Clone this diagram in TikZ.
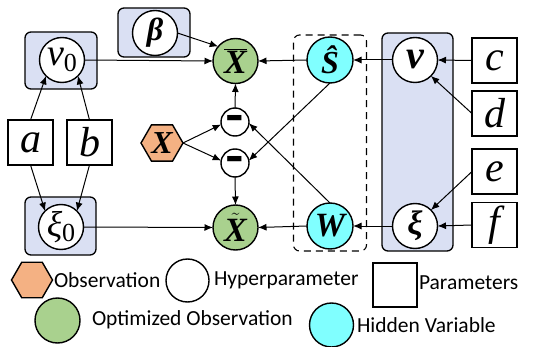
\documentclass[tikz,border=0pt]{standalone}
\usepackage{fontspec}
\setmainfont{Liberation Serif}
\newfontfamily\legfont{Carlito}
\newfontfamily\minusfont{Liberation Sans}
\usetikzlibrary{arrows.meta,shapes.geometric}
\definecolor{boxblue}{HTML}{DAE0F3}
\definecolor{optgreen}{HTML}{A9D18E}
\definecolor{hidcyan}{HTML}{80FFFF}
\definecolor{obsorange}{HTML}{F4B183}
\newcommand{\fs}[1]{\fontsize{#1}{#1}\selectfont}
\begin{document}
\begin{tikzpicture}[x=1pt,y=-1pt,
  every node/.style={inner sep=0pt,outer sep=0pt},
  bluebox/.style={draw,line width=1.3pt,fill=boxblue,rounded corners=6pt},
  dashbox/.style={draw,line width=1.1pt,dash pattern=on 7pt off 5pt,rounded corners=6pt},
  hyper/.style={circle,draw,line width=1.4pt,fill=white,minimum size=45pt},
  optim/.style={circle,draw,line width=1.4pt,fill=optgreen,minimum size=45pt},
  hidden/.style={circle,draw,line width=1.4pt,fill=hidcyan,minimum size=46pt},
  param/.style={rectangle,draw,line width=1.4pt,fill=white,minimum size=45pt,font=\fs{42}\itshape},
  minusnode/.style={circle,draw,line width=1.4pt,fill=white,minimum size=28pt,font=\minusfont\fs{40}\bfseries},
  obs/.style={regular polygon,regular polygon sides=6,draw,line width=1.4pt,fill=obsorange,minimum size=42pt},
  conn/.style={line width=1pt,-{Latex[length=8.5pt,width=7pt]}},
  leg/.style={anchor=west,font=\legfont\fs{21.5}}
]
\useasboundingbox (0,0) rectangle (534,347);
% background boxes
\node[bluebox,minimum width=72pt,minimum height=57pt] (nuzbox) at (61,60.5) {};
\node[bluebox,minimum width=71pt,minimum height=58pt] (xizbox) at (60.5,226) {};
\node[bluebox,minimum width=72pt,minimum height=49pt] (betabox) at (154,32.5) {};
\node[bluebox,minimum width=71pt,minimum height=218pt] (vbox) at (417.5,142) {};
\node[dashbox,minimum width=73pt,minimum height=216pt] (dbox) at (330,143) {};
% nodes
\node[hyper,font=\fs{38}] (nu0) at (62,60) {\itshape ν\raisebox{-0.3ex}{\upshape\fs{26}0}};
\node[hyper,font=\fs{24}] (xi0) at (61,227) {\itshape\fs{36}ξ\raisebox{-0.3ex}{\upshape\fs{26}0}};
\node[hyper,font=\fs{32}\bfseries\itshape] (beta) at (155,33) {β};
\node[param] (a) at (30.5,142.5) {a};
\node[param] (b) at (89.5,142.5) {b};
\node[obs,font=\fs{32}\bfseries\itshape] (X) at (162,143) {X};
\node[optim,font=\fs{34}\bfseries\itshape] (Xbar) at (235.5,61) {$\overline{\hbox{X}}$};
\node[optim,font=\fs{34}\bfseries\itshape] (Xtil) at (235.5,227.5) {$\tilde{\hbox{X}}$};
\node[minusnode] (mt) at (235,122) {\scalebox{1.4}[1.1]{-}};
\node[minusnode] (mb) at (235,163) {\scalebox{1.4}[1.1]{-}};
\node[hidden,font=\fs{32}\bfseries\itshape] (S) at (330,60) {\^S};
\node[hidden,font=\fs{34}\bfseries\itshape] (W) at (330,226) {W};
\node[hyper,font=\fs{40}\bfseries\itshape] (v) at (415,60) {v};
\node[hyper,font=\fs{34}\bfseries\itshape] (xi) at (415,226) {ξ};
\node[param] (c) at (494.5,60.5) {c};
\node[param] (d) at (494.5,113.5) {d};
\node[param] (e) at (494.5,171.5) {e};
\node[param] (f) at (494.5,225) {f};
% connectors
\draw[conn] (a.north) -- (nu0.225);
\draw[conn] (b.north) -- (nu0.-45);
\draw[conn] (a.south) -- (xi0.135);
\draw[conn] (b.south) -- (xi0.45);
\draw[conn] (beta.east) -- (Xbar.140);
\draw[conn] (nu0.east) -- (Xbar.west);
\draw[conn] (xi0.east) -- (Xtil.west);
\draw[conn] (X.east) -- (mt.190);
\draw[conn] (X.east) -- (mb.170);
\draw[conn] (mt.north) -- (Xbar.south);
\draw[conn] (mb.south) -- (Xtil.north);
\draw[conn] (S.south) -- (mb.10);
\draw[conn] (W.north) -- (mt.-5);
\draw[conn] (S.west) -- (Xbar.east);
\draw[conn] (W.west) -- (Xtil.east);
\draw[conn] (v.west) -- (S.east);
\draw[conn] (xi.west) -- (W.east);
\draw[conn] (c.west) -- (v.east);
\draw[conn] (d.west) -- (v.-45);
\draw[conn] (e.west) -- (xi.45);
\draw[conn] (f.west) -- (xi.east);
% legend
\node[obs,minimum size=41pt] (lobs) at (32,280) {};
\node[leg] (tobs) at (54,280) {Observation};
\node[hyper,minimum size=43pt] (lhyp) at (187.5,280.5) {};
\node[leg] (thyp) at (214,280) {Hyperparameter};
\node[rectangle,draw,line width=1.4pt,minimum size=44pt] (lpar) at (395,285) {};
\node[leg] (tpar) at (419,283) {Parameters};
\node[optim,minimum size=45pt] (lopt) at (57.5,320.5) {};
\node[leg] (topt) at (92,320) {Optimized Observation};
\node[hidden,minimum size=44pt] (lhid) at (331.5,325) {};
\node[leg] (thid) at (357,325) {Hidden Variable};
\end{tikzpicture}
\end{document}
